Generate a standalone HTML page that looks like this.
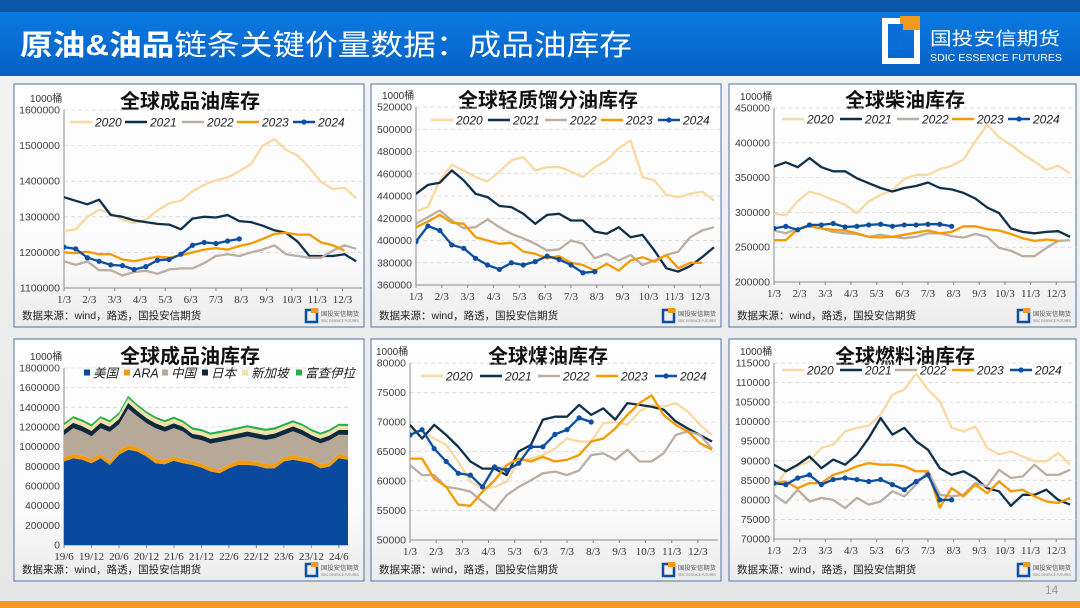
<!DOCTYPE html>
<html><head><meta charset="utf-8">
<style>
html,body{margin:0;padding:0;}
body{width:1080px;height:608px;overflow:hidden;background:linear-gradient(#f4f4f4,#e6e6e6);font-family:"Liberation Sans","Noto Sans CJK SC",sans-serif;}
svg{position:absolute;left:0;top:0;}
</style></head>
<body>
<svg id="page" width="1080" height="608" viewBox="0 0 1080 608" xmlns="http://www.w3.org/2000/svg">
<defs>
<linearGradient id="hdr" x1="0" y1="0" x2="0" y2="1"><stop offset="0" stop-color="#0a7ae2"/><stop offset="1" stop-color="#0660c4"/></linearGradient>
<linearGradient id="pbg" x1="0" y1="0" x2="0" y2="1"><stop offset="0" stop-color="#ffffff"/><stop offset="0.7" stop-color="#fbfbfb"/><stop offset="1" stop-color="#ececec"/></linearGradient>
</defs>
<rect x="0" y="0" width="1080" height="12" fill="#0a55a6"/>
<rect x="0" y="12" width="1080" height="64" fill="url(#hdr)"/>
<text x="20" y="55" font-size="29" fill="#fff" textLength="612" lengthAdjust="spacingAndGlyphs" font-family="'Liberation Sans','Noto Sans CJK SC',sans-serif"><tspan font-weight="bold">原油&amp;油品</tspan>链条关键价量数据：成品油库存</text>
<g>
<rect x="885" y="21" width="32" height="40" fill="none" stroke="#fff" stroke-width="6"/>
<rect x="900" y="16" width="20" height="14" fill="#f39a1e"/>
<rect x="888" y="24" width="15" height="26" fill="#0a6ed8"/>
<text x="930" y="45" font-size="18" fill="#fff" font-family="'Liberation Sans','Noto Sans CJK SC',sans-serif" textLength="130" lengthAdjust="spacingAndGlyphs">国投安信期货</text>
<text x="930" y="61" font-size="10" fill="#fff" textLength="132" lengthAdjust="spacingAndGlyphs">SDIC ESSENCE FUTURES</text>
</g>
<text x="1045" y="594" font-size="12" fill="#999">14</text>
<rect x="0" y="601" width="1080" height="7" fill="#f39a1e"/>
<g id="charts"></g>
</svg>
<script>
const monthLabels = ['1/3','2/3','3/3','4/3','5/3','6/3','7/3','8/3','9/3','10/3','11/3','12/3'];
const yearNames = ['2020','2021','2022','2023','2024'];

const c1_2020 = [1260,1265,1300,1320,1310,1292,1282,1292,1318,1338,1345,1372,1390,1403,1410,1428,1448,1500,1518,1488,1472,1438,1398,1378,1382,1352];
const c1_2021 = [1355,1345,1335,1348,1305,1300,1290,1285,1280,1278,1265,1295,1300,1298,1305,1288,1285,1275,1262,1255,1230,1190,1190,1190,1195,1175];
const c1_2022 = [1175,1165,1175,1150,1150,1135,1145,1148,1140,1152,1155,1155,1170,1190,1195,1190,1200,1208,1220,1195,1190,1185,1185,1205,1220,1210];
const c1_2023 = [1200,1198,1202,1195,1195,1180,1175,1182,1188,1185,1192,1200,1208,1212,1208,1218,1225,1238,1252,1255,1250,1250,1228,1220,1205];
const c1_2024 = [1215,1210,1185,1175,1165,1163,1152,1160,1178,1180,1195,1220,1228,1225,1232,1238];
const c1_ticks = ['1100000','1200000','1300000','1400000','1500000','1600000'];

const c2_2020 = [426,430,454,468,463,457,453,462,472,475,463,466,466,462,457,466,472,483,490,457,454,441,439,442,444,436];
const c2_2021 = [442,450,452,463,454,442,439,431,430,424,415,423,424,418,418,408,406,412,403,405,391,375,372,377,385,394];
const c2_2022 = [415,421,427,418,411,412,419,412,406,402,397,391,392,400,397,384,388,382,387,378,382,387,390,403,409,412];
const c2_2023 = [412,417,423,416,415,403,400,397,398,390,388,384,386,380,378,373,379,373,382,385,381,387,375,380,380];
const c2_2024 = [399,413,409,396,393,384,378,374,380,378,381,386,383,378,371,372];
const c2_ticks = ['360000','380000','400000','420000','440000','460000','480000','500000','520000'];

const c3_2020 = [298,296,316,330,325,318,311,299,316,325,332,348,354,354,362,367,376,402,426,408,397,384,373,361,367,356];
const c3_2021 = [366,372,365,378,365,359,359,349,342,335,330,335,338,343,335,333,328,320,307,299,277,272,270,272,273,265];
const c3_2022 = [274,270,277,280,277,272,270,269,265,268,265,263,265,270,270,266,264,269,265,249,245,237,237,249,259,260];
const c3_2023 = [260,260,276,280,277,275,274,270,265,264,265,268,271,274,270,272,280,280,276,274,269,263,259,261,259];
const c3_2024 = [277,280,275,282,282,284,279,280,282,283,280,282,282,283,283,280];
const c3_ticks = ['200000','250000','300000','350000','400000','450000'];

const c4_dates = ['19/6','19/12','20/6','20/12','21/6','21/12','22/6','22/12','23/6','23/12','24/6'];
const c4_us    = [850,883,866,832,883,815,917,968,951,900,832,822,856,832,815,788,747,730,781,815,815,805,781,781,850,866,850,832,781,798,883,866];
const c4_ara   = [42,45,44,46,44,40,48,50,46,45,44,43,45,44,42,42,40,40,42,44,45,44,43,42,45,46,44,45,42,42,45,44];
const c4_china = [226,261,244,227,261,295,261,367,312,295,312,288,288,278,227,237,244,278,244,227,244,237,244,261,226,244,226,193,210,227,193,210];
const c4_japan = [55,55,55,55,55,52,55,60,55,52,50,50,50,48,48,48,48,48,48,48,50,50,50,50,50,50,50,48,48,48,50,50];
const c4_sing  = [45,45,45,45,45,45,45,48,45,45,45,45,45,42,42,42,42,42,42,42,42,42,42,40,40,40,42,40,40,40,40,40];
const c4_fuj   = [22,22,22,22,22,22,22,25,22,22,22,22,22,22,22,22,22,22,22,22,22,22,22,22,22,22,22,22,22,22,22,22];
const c4_ticks = ['0','200000','400000','600000','800000','1000000','1200000','1400000','1600000','1800000'];
const c4_names = ['美国','ARA','中国','日本','新加坡','富查伊拉'];

const c5_2020 = [68.4,68.4,67.2,66.1,63.3,59.9,58.7,59.0,59.9,63.3,63.8,64.4,65.5,67.2,66.7,66.7,69.8,70.0,69.5,71.8,72.9,72.6,73.2,71.8,69.5,67.8];
const c5_2021 = [69.5,67.2,69.5,67.8,65.8,63.3,62.1,62.1,61.0,65.0,66.1,70.4,70.9,70.9,72.9,71.2,72.3,70.4,73.2,72.9,72.6,72.1,70.1,68.9,67.8,66.7];
const c5_2022 = [62.7,61.0,61.0,59.0,58.7,58.2,56.5,55.0,57.6,59.0,60.1,61.3,61.6,61.0,61.8,64.4,64.7,63.6,65.3,63.3,63.3,64.7,67.8,68.4,67.8,65.5];
const c5_2023 = [63.8,63.8,60.4,59.0,56.0,55.8,58.2,60.1,62.7,63.8,63.3,64.1,63.3,63.6,64.4,66.7,67.2,68.9,71.2,73.2,74.5,71.2,69.5,68.4,66.4,65.3];
const c5_2024 = [67.8,68.7,65.5,63.3,61.3,61.0,59.0,62.4,61.8,63.0,65.8,65.8,67.9,68.7,70.7,70.0];
const c5_ticks = ['50000','55000','60000','65000','70000','75000','80000'];

const c6_2020 = [83.0,87.3,88.6,89.9,93.3,94.1,97.5,98.4,99.0,101.8,106.9,108.2,112.3,108.2,105.2,98.4,97.5,98.8,93.3,91.6,92.4,91.1,89.9,89.9,92.0,89.0];
const c6_2021 = [89.0,87.3,89.0,91.1,88.1,90.3,89.0,91.6,95.8,100.9,96.7,98.4,95.0,92.8,88.1,86.4,87.3,85.6,83.0,82.2,78.5,81.3,81.3,82.6,80.0,78.8];
const c6_2022 = [81.3,79.2,82.6,79.6,80.5,80.0,77.9,80.5,78.8,79.6,82.2,80.9,83.9,87.3,81.3,80.9,81.3,84.3,83.5,87.7,85.6,86.0,89.0,86.4,86.4,87.7];
const c6_2023 = [84.3,84.7,83.0,84.3,84.3,86.4,87.3,88.6,89.4,89.0,89.0,88.6,87.3,87.3,78.0,83.0,80.9,83.9,81.7,84.7,82.2,82.6,80.9,79.6,79.2,80.5];
const c6_2024 = [84.3,83.9,85.6,86.4,83.9,85.2,85.6,85.2,84.7,85.2,83.9,82.6,84.7,86.4,80.0,80.0];
const c6_ticks = ['70000','75000','80000','85000','90000','95000','100000','105000','110000','115000'];

const NS = 'http://www.w3.org/2000/svg';
const root = document.getElementById('charts');
function mk(tag, parent){ const e = document.createElementNS(NS, tag); parent.appendChild(e); return e; }
function at(e, o){ for (const k in o) e.setAttribute(k, o[k]); return e; }
const colors = ['#f8d9a2','#10304a','#bbaea3','#f59a00','#0b4ea2'];
const SRC = '数据来源：wind，路透，国投安信期货';
let clipId = 0;

function panelFrame(p, name){
  const g = mk('g', root);
  
  
  at(mk('rect', g), {x:p.bx, y:p.by, width:p.bw, height:p.bh, fill:'url(#pbg)', stroke:'#6b87b3', 'stroke-width':1.2});
  const t = at(mk('text', g), {x:p.tx, y:p.ty, 'font-size':20, 'font-weight':'bold', 'text-anchor':'middle', fill:'#111'});
  t.textContent = p.title;
  
  
  const u = at(mk('text', g), {x:p.L - 34, y:p.T - 8, 'font-size':10, fill:'#333'});
  u.textContent = '1000桶';
  
  
  const s = at(mk('text', g), {x:p.bx + 8, y:p.by + p.bh - 8, 'font-size':10.5, fill:'#222'});
  s.textContent = SRC;
  
  
  const lg = mk('g', g);
  
  
  const lx = p.bx + p.bw - 58, ly = p.by + p.bh - 17;
  at(mk('rect', lg), {x:lx, y:ly, width:11, height:12, fill:'none', stroke:'#0b4ea2', 'stroke-width':2.5});
  at(mk('rect', lg), {x:lx+5, y:ly-2, width:7, height:5, fill:'#f39a1e'});
  const lt = at(mk('text', lg), {x:lx+15, y:ly+6, 'font-size':6, fill:'#555', textLength:38, lengthAdjust:'spacingAndGlyphs'});
  lt.textContent = '国投安信期货';
  const lt2 = at(mk('text', lg), {x:lx+15, y:ly+12, 'font-size':4, fill:'#777', textLength:38, lengthAdjust:'spacingAndGlyphs'});
  lt2.textContent = 'SDIC ESSENCE FUTURES';
  return g;
}

function yAxis(g, p, ticks){
  const n = ticks.length - 1;
  ticks.forEach((lab, i) => {
    const y = p.B - i * (p.B - p.T) / n;
    if (i > 0) {
      const gl = at(mk('line', g), {x1:p.L, x2:p.R, y1:y, y2:y, stroke:'#d6d6d6', 'stroke-dasharray':'4,3', 'stroke-width':0.8});
      
      
    }
    const t = at(mk('text', g), {x:p.L - 4, y:y + 3.5, 'font-size':10.5, 'text-anchor':'end', fill:'#404040'});
    t.textContent = lab;
    
    
  });
  at(mk('line', g), {x1:p.L, x2:p.L, y1:p.T, y2:p.B, stroke:'#8c8c8c', 'stroke-width':1});
  at(mk('line', g), {x1:p.L, x2:p.R, y1:p.B, y2:p.B, stroke:'#8c8c8c', 'stroke-width':1});
}

function clip(g, p){
  const id = 'cp' + (clipId++);
  const cp = at(mk('clipPath', g), {id:id});
  at(mk('rect', cp), {x:p.L, y:p.T - 4, width:p.R - p.L, height:p.B - p.T + 4});
  return id;
}

function lineChart(p, name, series, ticks, ymin, ymax){
  const g = panelFrame(p, name);
  yAxis(g, p, ticks);
  const xs = w => p.L + w / 51 * (p.R - p.L);
  const ys = v => p.B - (v - ymin) / (ymax - ymin) * (p.B - p.T);
  monthLabels.forEach((lab, m) => {
    const x = xs(m * 52 / 12);
    at(mk('line', g), {x1:x, x2:x, y1:p.B, y2:p.B + 3, stroke:'#8c8c8c'});
    const t = at(mk('text', g), {x:x, y:p.B + 15, 'font-size':11, 'text-anchor':'middle', fill:'#333', 'font-family':"'Liberation Serif',serif"});
    t.textContent = lab;
    
    
  });
  const cid = clip(g, p);
  const pg = at(mk('g', g), {'clip-path':'url(#' + cid + ')'});
  series.forEach((arr, si) => {
    const pts = arr.map((v, i) => xs(i * 2).toFixed(1) + ',' + ys(v).toFixed(1)).join(' ');
    const pl = at(mk('polyline', pg), {points:pts, fill:'none', stroke:colors[si], 'stroke-width':2.3, 'stroke-linejoin':'round'});
    
    
    if (si === 4) {
      arr.forEach((v, i) => {
        const c = at(mk('circle', pg), {cx:xs(i * 2), cy:ys(v), r:2.6, fill:colors[4]});
        
        
      });
    }
  });
  const lg = mk('g', g);
  
  
  yearNames.forEach((yn, i) => {
    const x = p.lx[i], y = p.ly;
    at(mk('line', lg), {x1:x, x2:x + 22, y1:y, y2:y, stroke:colors[i], 'stroke-width':2.5});
    if (i === 4) at(mk('circle', lg), {cx:x + 11, cy:y, r:2.6, fill:colors[4]});
    const t = at(mk('text', lg), {x:x + 25, y:y + 4.5, 'font-size':12, 'font-style':'italic', fill:'#222'});
    t.textContent = yn;
    
    
  });
}

function stackChart(p){
  const g = panelFrame(p, 'chart-global-products-stacked');
  yAxis(g, p, c4_ticks);
  const xs = m => p.L + m / 62 * (p.R - p.L);
  const ys = v => p.B - v / 1800 * (p.B - p.T);
  c4_dates.forEach((lab, i) => {
    const x = xs(i * 6);
    at(mk('line', g), {x1:x, x2:x, y1:p.B, y2:p.B + 3, stroke:'#8c8c8c'});
    const t = at(mk('text', g), {x:x, y:p.B + 15, 'font-size':11, 'text-anchor':'middle', fill:'#333', 'font-family':"'Liberation Serif',serif"});
    t.textContent = lab;
    
    
  });
  const layers = [c4_us, c4_ara, c4_china, c4_japan, c4_sing, c4_fuj];
  const lcol = ['#0a4a9e','#f39c12','#b8a898','#0d2b3e','#f7dfa8','#22b14c'];
  const base = c4_us.map(() => 0);
  const ag = mk('g', g);
  layers.forEach((arr, li) => {
    const top = base.map((b, i) => b + arr[i]);
    let d = 'M' + top.map((v, i) => xs(i * 2).toFixed(1) + ',' + ys(v).toFixed(1)).join('L');
    for (let i = base.length - 1; i >= 0; i--) d += 'L' + xs(i * 2).toFixed(1) + ',' + ys(base[i]).toFixed(1);
    d += 'Z';
    const path = at(mk('path', ag), {d:d, fill:lcol[li]});
    
    
    top.forEach((v, i) => base[i] = v);
  });
  const lg = mk('g', g);
  
  
  c4_names.forEach((nm, i) => {
    const x = p.lx[i], y = p.ly;
    at(mk('rect', lg), {x:x, y:y - 3.5, width:6, height:6, fill:lcol[i]});
    const t = at(mk('text', lg), {x:x + 9, y:y + 4.5, 'font-size':12.5, 'font-style':'italic', fill:'#222'});
    t.textContent = nm;
    
    
  });
}

lineChart({bx:14,by:84,bw:350,bh:243,L:64,R:362,T:110,B:288,tx:190,ty:108,title:'全球成品油库存',lx:[70,125,182,237,293],ly:122},
  'chart-global-products', [c1_2020,c1_2021,c1_2022,c1_2023,c1_2024], c1_ticks, 1100, 1600);
lineChart({bx:371,by:84,bw:350,bh:243,L:416,R:720,T:107,B:285,tx:548,ty:107,title:'全球轻质馏分油库存',lx:[431,488,545,601,658],ly:120},
  'chart-light-distillates', [c2_2020,c2_2021,c2_2022,c2_2023,c2_2024], c2_ticks, 360, 520);
lineChart({bx:729,by:84,bw:347,bh:243,L:774,R:1076,T:108,B:282,tx:905,ty:107,title:'全球柴油库存',lx:[782,840,897,952,1008],ly:119},
  'chart-diesel', [c3_2020,c3_2021,c3_2022,c3_2023,c3_2024], c3_ticks, 200, 450);
stackChart({bx:14,by:339,bw:350,bh:242,L:64,R:348,T:368,B:545,tx:190,ty:363,title:'全球成品油库存',lx:[84,124,162,202,242,296],ly:373});
lineChart({bx:371,by:339,bw:350,bh:242,L:410,R:718,T:363,B:540,tx:548,ty:363,title:'全球煤油库存',lx:[421,480,538,596,655],ly:376},
  'chart-jet-fuel', [c5_2020,c5_2021,c5_2022,c5_2023,c5_2024], c5_ticks, 50, 80);
lineChart({bx:729,by:339,bw:347,bh:242,L:774,R:1076,T:363,B:539,tx:905,ty:363,title:'全球燃料油库存',lx:[782,840,895,952,1010],ly:370},
  'chart-fuel-oil', [c6_2020,c6_2021,c6_2022,c6_2023,c6_2024], c6_ticks, 70, 115);
</script>
</body></html>
